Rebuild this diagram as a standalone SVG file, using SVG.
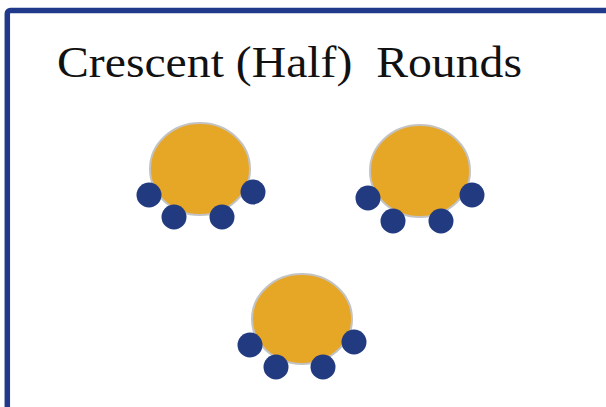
<svg xmlns="http://www.w3.org/2000/svg" width="606" height="407" viewBox="0 0 606 407">
<style>
.frame{fill:none;stroke:#21398a;stroke-width:5.5}
.body{fill:#e6a626;stroke:#c3c3c3;stroke-width:2}
.paw{fill:#213a80}
.title{font-family:"Liberation Serif","Times New Roman",serif;font-size:44px;fill:#111}
</style>
<rect width="606" height="407" fill="#fff"/>
<rect class="frame" x="7.3" y="10.5" width="640" height="440" rx="3"/>
<text class="title" x="57" y="77" xml:space="preserve" textLength="465" lengthAdjust="spacingAndGlyphs">Crescent (Half)  Rounds</text>
<g id="round1">
<ellipse class="body" cx="200" cy="169" rx="50" ry="46"/>
<circle class="paw" cx="149" cy="195" r="12.5"/>
<circle class="paw" cx="174" cy="217" r="12.5"/>
<circle class="paw" cx="222" cy="217" r="12.5"/>
<circle class="paw" cx="253" cy="192" r="12.5"/>
</g>
<g id="round2">
<ellipse class="body" cx="420" cy="171" rx="50" ry="46"/>
<circle class="paw" cx="368" cy="198" r="12.5"/>
<circle class="paw" cx="393" cy="221" r="12.5"/>
<circle class="paw" cx="441" cy="221" r="12.5"/>
<circle class="paw" cx="472" cy="195" r="12.5"/>
</g>
<g id="round3">
<ellipse class="body" cx="302" cy="319" rx="50" ry="45"/>
<circle class="paw" cx="250" cy="345" r="12.5"/>
<circle class="paw" cx="276" cy="367" r="12.5"/>
<circle class="paw" cx="323" cy="367" r="12.5"/>
<circle class="paw" cx="354" cy="342" r="12.5"/>
</g>
<g id="connectors"></g>
</svg>
